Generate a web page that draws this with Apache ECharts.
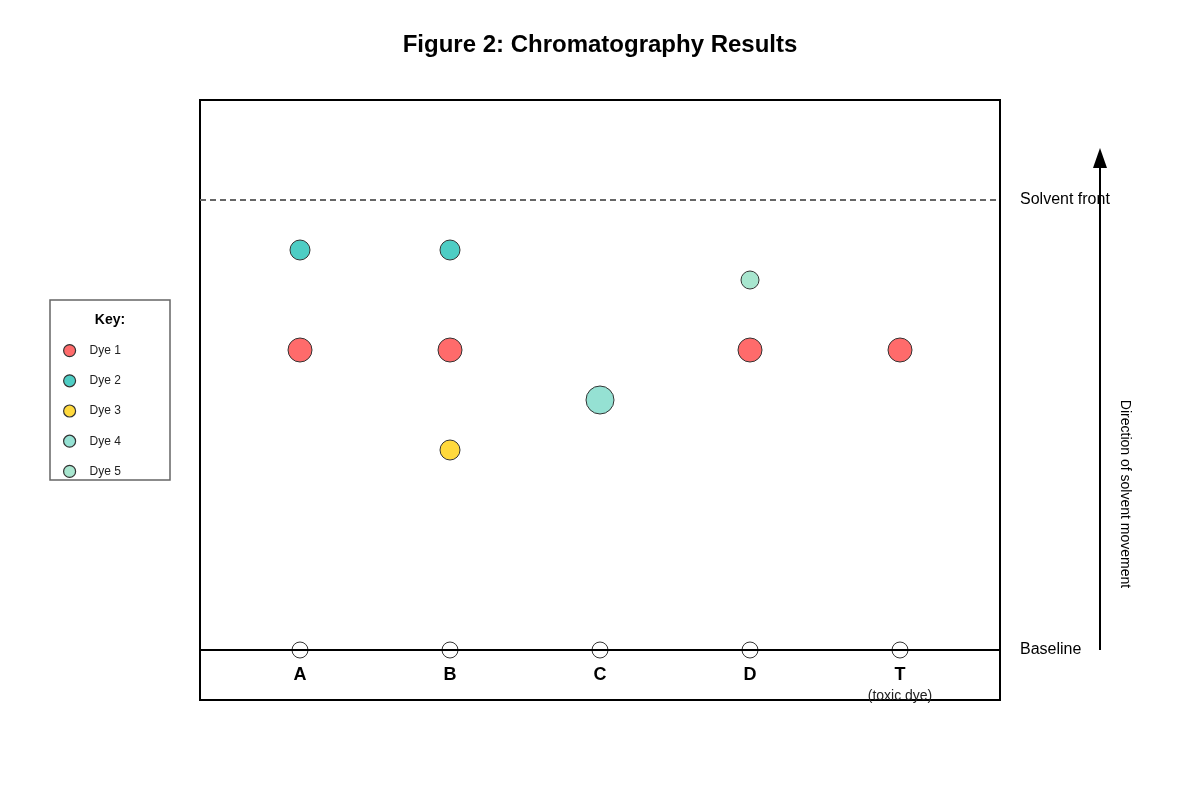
<!DOCTYPE html>
<html>
<head>
<meta charset="utf-8">
<script src="https://cdn.jsdelivr.net/npm/echarts@6/dist/echarts.min.js"></script>
<style>
  html, body { margin: 0; padding: 0; background: #fff; }
  #container { width: 1200px; height: 800px; }
</style>
</head>
<body>
<div id="container"></div>
<script>
(function () {

    // lanes on the paper, index 0..4
    const lanes = ['A', 'B', 'C', 'D', 'T'];
    const laneNotes = ['', '', '', '', '(toxic dye)'];

    // distance moved from baseline (solvent front = 9)
    const solventFront = 9;
    const dye1 = [[0, 6], [1, 6], [3, 6], [4, 6]];
    const dye2 = [[0, 8], [1, 8]];
    const dye3 = [[1, 4]];
    const dye4 = [[2, 5]];
    const dye5 = [[3, 7.4]];

    const dyeNames = ['Dye 1', 'Dye 2', 'Dye 3', 'Dye 4', 'Dye 5'];
    const dyeColors = ['#FF6B6B', '#4ECDC4', '#FFD93D', '#95E1D3', '#A8E6CF'];
    const dyeSizes = [24, 20, 20, 28, 18];

    const font = 'Liberation Sans, Arial, sans-serif';

    const origins = lanes.map((name, i) => [i, 0]);
    const laneLabels = lanes.map((name, i) => ({ value: [i, -0.5], name: name }));
    const noteLabels = laneNotes.map((note, i) => ({ value: [i, -0.92], name: note }));

    const dyeSeries = [dye1, dye2, dye3, dye4, dye5].map((data, i) => {
        return {
            name: dyeNames[i],
            type: 'scatter',
            data: data,
            symbol: 'circle',
            symbolSize: dyeSizes[i],
            itemStyle: { color: dyeColors[i], borderColor: '#333', borderWidth: 1, opacity: 1 },
            emphasis: { disabled: true },
            z: 5
        }
    });

    // invisible points that only carry a text label
    const textSeries = (name, data, label) => ({
        name: name,
        type: 'scatter',
        data: data,
        symbol: 'circle',
        symbolSize: 1,
        silent: true,
        itemStyle: { color: 'rgba(0,0,0,0)' },
        label: Object.assign({ show: true, position: 'inside', formatter: '{b}',
            textBorderWidth: 0, opacity: 1 }, label),
        z: 6
    });

    var dom = document.getElementById('container');
    var myChart = echarts.init(dom, null, { renderer: 'canvas' });

    myChart.setOption({
        animation: false,
        title: {
            text: 'Figure 2: Chromatography Results',
            left: 'center',
            top: 28,
            textStyle: { fontFamily: font, fontSize: 24, fontWeight: 'bold', color: '#000' }
        },
        legend: {
            orient: 'vertical',
            left: 58,
            top: 339,
            itemWidth: 12,
            itemHeight: 12,
            itemGap: 17,
            icon: 'circle',
            selectedMode: false,
            data: dyeNames,
            itemStyle: { borderWidth: 1.2, borderColor: '#333' },
            textStyle: { fontFamily: font, fontSize: 12, color: '#222', padding: [0, 0, 0, 9] }
        },
        grid: {
            left: 200, top: 100, width: 800, height: 600,
            show: true, borderColor: '#000', borderWidth: 2, backgroundColor: 'transparent'
        },
        xAxis: {
            type: 'value', min: -2 / 3, max: 4 + 2 / 3,
            axisLine: { show: false }, axisTick: { show: false },
            axisLabel: { show: false }, splitLine: { show: false }
        },
        yAxis: {
            type: 'value', min: -1, max: 11,
            axisLine: { show: false }, axisTick: { show: false },
            axisLabel: { show: false }, splitLine: { show: false }
        },
        series: [
            {
                name: 'origins',
                type: 'scatter',
                data: origins,
                symbol: 'circle',
                symbolSize: 16,
                itemStyle: { color: 'rgba(0,0,0,0)', borderColor: '#000', borderWidth: 1 },
                emphasis: { disabled: true },
                z: 4,
                markLine: {
                    silent: true,
                    symbol: 'none',
                    data: [
                        {
                            yAxis: 0,
                            lineStyle: { color: '#000', width: 2, type: 'solid' },
                            label: { show: true, position: 'end', distance: 20, formatter: 'Baseline',
                                fontFamily: font, fontSize: 16, color: '#000', padding: [3, 0, 0, 0] }
                        },
                        {
                            yAxis: solventFront,
                            lineStyle: { color: '#666', width: 2, type: [6, 4] },
                            label: { show: true, position: 'end', distance: 20, formatter: 'Solvent front',
                                fontFamily: font, fontSize: 16, color: '#000', padding: [3, 0, 0, 0] }
                        }
                    ]
                }
            },
            textSeries('lanes', laneLabels,
                { fontFamily: font, fontSize: 18, fontWeight: 'bold', color: '#000' }),
            textSeries('notes', noteLabels,
                { fontFamily: font, fontSize: 14, color: '#222' })
        ].concat(dyeSeries),
        graphic: [
            {
                type: 'rect',
                shape: { x: 50, y: 300, width: 120, height: 180 },
                style: { fill: 'none', stroke: '#666', lineWidth: 1.5 },
                z: 1
            },
            {
                type: 'text',
                x: 110, y: 320,
                style: { text: 'Key:', font: 'bold 14px ' + font, fill: '#000',
                    textAlign: 'center', textVerticalAlign: 'middle' }
            },
            {
                type: 'line',
                shape: { x1: 1100, y1: 650, x2: 1100, y2: 162 },
                style: { stroke: '#000', lineWidth: 2 }
            },
            {
                type: 'polygon',
                shape: { points: [[1100, 148], [1093, 168], [1107, 168]] },
                style: { fill: '#000' }
            },
            {
                type: 'text',
                x: 1125, y: 494,
                rotation: -Math.PI / 2,
                style: { text: 'Direction of solvent movement', font: '14px ' + font, fill: '#000',
                    textAlign: 'center', textVerticalAlign: 'middle' }
            }
        ]
    });

})();
</script>
</body>
</html>
